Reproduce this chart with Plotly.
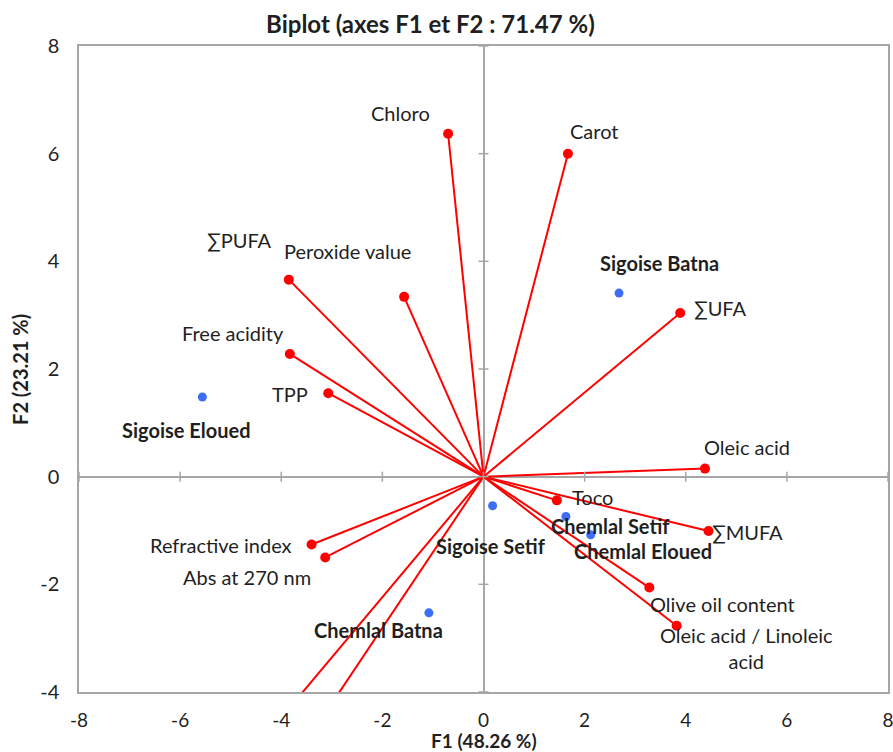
import plotly.graph_objects as go

# Variables (loadings scaled to the F1/F2 plane)
var_names = ["Chloro", "Carot", "∑PUFA", "Peroxide value", "∑UFA", "Free acidity",
             "TPP", "Oleic acid", "Toco", "∑MUFA", "Olive oil content",
             "Oleic acid / Linoleic<br>acid", "Refractive index", "Abs at 270 nm",
             "∑SFA", "Abs at 232 nm"]
var_f1 = [-0.70, 1.67, -3.85, -1.57, 3.89, -3.83, -3.07, 4.38, 1.45, 4.45, 3.28,
          3.82, -3.40, -3.13, -4.11, -3.49]
var_f2 = [6.37, 6.00, 3.66, 3.34, 3.04, 2.28, 1.55, 0.15, -0.44, -1.01, -2.06,
          -2.77, -1.26, -1.50, -4.60, -4.90]

# Observations (samples)
obs_names = ["Sigoise Batna", "Sigoise Eloued", "Sigoise Setif", "Chemlal Setif",
             "Chemlal Eloued", "Chemlal Batna"]
obs_f1 = [2.68, -5.56, 0.18, 1.63, 2.12, -1.08]
obs_f2 = [3.41, 1.48, -0.54, -0.74, -1.08, -2.53]

x_ticks = [-8, -6, -4, -2, 0, 2, 4, 6, 8]
y_ticks = [-4, -2, 0, 2, 4, 6, 8]

# Label offsets in pixels (dx right, dy up) relative to each point
var_label_offset = {
    "Chloro": (-48, 21), "Carot": (27, 23), "∑PUFA": (-49, 40),
    "Peroxide value": (-57, 46), "∑UFA": (40, 5), "Free acidity": (-57, 21),
    "TPP": (-38, -1), "Oleic acid": (42, 22), "Toco": (36, 3), "∑MUFA": (39, -1),
    "Olive oil content": (73, -16), "Oleic acid / Linoleic<br>acid": (70, -22),
    "Refractive index": (-91, 0), "Abs at 270 nm": (-78, -20),
    "∑SFA": (-40, -20), "Abs at 232 nm": (-40, -20),
}
obs_label_offset = {
    "Sigoise Batna": (40, 30), "Sigoise Eloued": (-16, -33), "Sigoise Setif": (-2, -40),
    "Chemlal Setif": (45, -9), "Chemlal Eloued": (52, -16), "Chemlal Batna": (-50, -17),
}

RED = "#FF0000"
BLUE = "#3D6EF5"
GRAY = "#A6A6A6"
TXT = "#1F1F1F"
FONT = "Lato"
LABEL_SIZE = 20

fig = go.Figure()

# Vectors from the origin to each variable
line_x, line_y = [], []
for fx, fy in zip(var_f1, var_f2):
    line_x += [0, fx, None]
    line_y += [0, fy, None]
fig.add_trace(go.Scatter(x=line_x, y=line_y, mode="lines",
                         line=dict(color=RED, width=2), hoverinfo="skip",
                         showlegend=False))
fig.add_trace(go.Scatter(x=var_f1, y=var_f2, mode="markers", text=var_names,
                         marker=dict(color=RED, size=10), showlegend=False))
fig.add_trace(go.Scatter(x=obs_f1, y=obs_f2, mode="markers", text=obs_names,
                         marker=dict(color=BLUE, size=9), showlegend=False))

# Text labels
for name, fx, fy in zip(var_names, var_f1, var_f2):
    if not (-4 <= fy <= 8 and -8 <= fx <= 8):
        continue
    dx, dy = var_label_offset[name]
    fig.add_annotation(x=fx, y=fy, text=name, showarrow=False, xshift=dx, yshift=dy,
                       xanchor="center", yanchor="middle",
                       font=dict(family=FONT, size=LABEL_SIZE, color=TXT))
for name, fx, fy in zip(obs_names, obs_f1, obs_f2):
    dx, dy = obs_label_offset[name]
    fig.add_annotation(x=fx, y=fy, text="<b>" + name + "</b>", showarrow=False,
                       xshift=dx, yshift=dy, xanchor="center", yanchor="middle",
                       font=dict(family=FONT, size=LABEL_SIZE, color=TXT))

# Crossing tick marks on the zero lines
for t in x_ticks:
    fig.add_shape(type="line", xref="x", yref="y", x0=t, x1=t, ysizemode="pixel",
                  yanchor=0, y0=-5, y1=5, line=dict(color=GRAY, width=1.5))
for t in y_ticks:
    fig.add_shape(type="line", xref="x", yref="y", y0=t, y1=t, xsizemode="pixel",
                  xanchor=0, x0=-5, x1=5, line=dict(color=GRAY, width=1.5))

# Axis titles
fig.add_annotation(text="<b>F1 (48.26 %)</b>", xref="paper", yref="paper",
                   x=0.5006, y=-0.0745, xanchor="center", yanchor="middle",
                   showarrow=False, borderpad=0,
                   font=dict(family=FONT, size=19, color=TXT))
fig.add_annotation(text="<b>F2 (23.21 %)</b>", xref="paper", yref="paper",
                   x=-0.073, y=0.5, xanchor="center", yanchor="middle", textangle=-90,
                   showarrow=False, font=dict(family=FONT, size=20, color=TXT))

axis_common = dict(showgrid=False, zeroline=True, zerolinecolor=GRAY, zerolinewidth=1.5,
                   showline=True, linecolor=GRAY, linewidth=1.5, mirror=True,
                   ticks="", automargin=False, ticklabeloverflow="allow")

fig.update_layout(
    width=893, height=752,
    margin=dict(l=79, r=5, t=46, b=60),
    plot_bgcolor="white", paper_bgcolor="white",
    title=dict(text="<b>Biplot (axes F1 et F2 : 71.47 %)</b>", x=0.482, xref="container",
               xanchor="center", y=1 - 25 / 752, yref="container", yanchor="middle",
               font=dict(family=FONT, size=24, color=TXT)),
    xaxis=dict(range=[-8, 8], tickvals=x_ticks, ticktext=[str(t) for t in x_ticks],
               ticklabelstandoff=10, tickfont=dict(family=FONT, size=19, color=TXT),
               **axis_common),
    yaxis=dict(range=[-4, 8], tickvals=y_ticks, ticktext=[str(t) for t in y_ticks],
               ticklabelstandoff=14, tickfont=dict(family=FONT, size=20, color=TXT),
               **axis_common),
)

fig.write_html("out.html")
